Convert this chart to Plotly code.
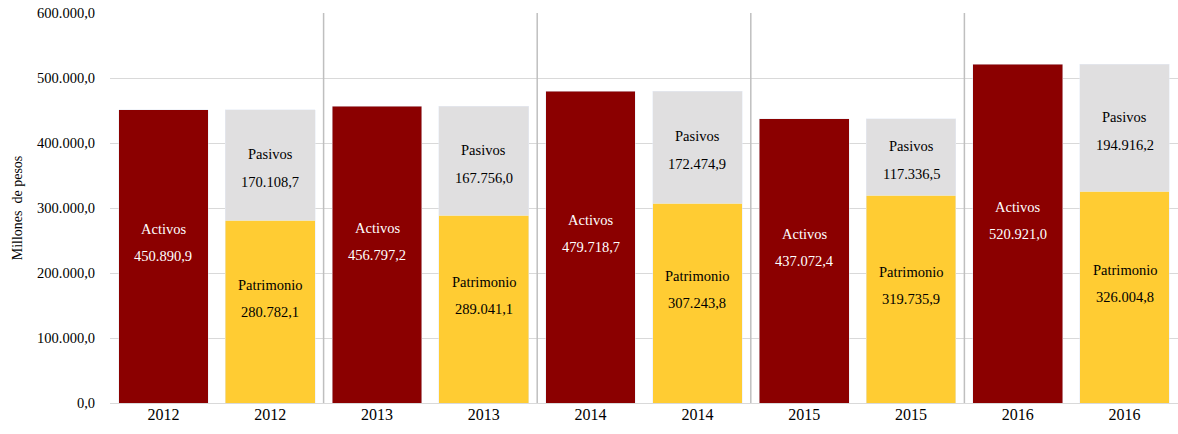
import plotly.graph_objects as go

years = ["2012", "2013", "2014", "2015", "2016"]
activos = [450890.9, 456797.2, 479718.7, 437072.4, 520921.0]
patrimonio = [280782.1, 289041.1, 307243.8, 319735.9, 326004.8]
pasivos = [170108.7, 167756.0, 172474.9, 117336.5, 194916.2]
y_ticks = [0, 100000, 200000, 300000, 400000, 500000, 600000]

C_ACT = "#8B0000"
C_PAT = "#FFCC33"
C_PAS = "#E0DFE0"
FONT = "Liberation Serif, Times New Roman, serif"


def fmt(v):
    s = f"{v:,.1f}"
    return s.replace(",", "X").replace(".", ",").replace("X", ".")


x_act = [2 * i for i in range(len(years))]
x_pp = [2 * i + 1 for i in range(len(years))]

fig = go.Figure()
fig.add_trace(go.Bar(x=x_act, y=activos, marker_color=C_ACT, name="Activos", width=0.84))
fig.add_trace(go.Bar(x=x_pp, y=patrimonio, marker_color=C_PAT, name="Patrimonio", width=0.84))
fig.add_trace(go.Bar(x=x_pp, y=pasivos, marker_color=C_PAS, name="Pasivos", width=0.84))

ann = []
for i in range(len(years)):
    a = activos[i]
    p = patrimonio[i]
    q = pasivos[i]
    ann += [
        dict(x=x_act[i], y=a / 2, text="Activos", yshift=27, font=dict(color="white")),
        dict(x=x_act[i], y=a / 2, text=fmt(a), yshift=0, font=dict(color="white")),
        dict(x=x_pp[i], y=p / 2, text="Patrimonio", yshift=27, font=dict(color="black")),
        dict(x=x_pp[i], y=p / 2, text=fmt(p), yshift=0, font=dict(color="black")),
        dict(x=x_pp[i], y=p + q / 2, text="Pasivos", yshift=11, font=dict(color="black")),
        dict(x=x_pp[i], y=p + q / 2, text=fmt(q), yshift=-17, font=dict(color="black")),
    ]
for a_ in ann:
    a_.update(xref="x", yref="y", showarrow=False, yanchor="middle")
    a_["font"].update(family=FONT, size=14.5)

shapes = []
for i in range(1, len(years)):
    shapes.append(dict(type="line", xref="x", yref="y", x0=2 * i - 0.5, x1=2 * i - 0.5,
                       y0=0, y1=y_ticks[-1], line=dict(color="#BFBFBF", width=1.5)))

fig.update_layout(
    width=1178, height=434,
    margin=dict(l=110, r=0, t=13, b=31, pad=0),
    barmode="stack",
    showlegend=False,
    plot_bgcolor="white", paper_bgcolor="white",
    separators=",.",
    font=dict(family=FONT, size=15, color="black"),
    annotations=ann,
    shapes=shapes,
    xaxis=dict(
        tickmode="array",
        tickvals=x_act + x_pp,
        ticktext=years + years,
        range=[-0.5, 2 * len(years) - 0.5],
        showgrid=False, zeroline=False, ticks="",
        tickfont=dict(size=16, family=FONT),
        automargin=False,
    ),
    yaxis=dict(
        range=[0, 600000],
        tickvals=y_ticks,
        tickformat=",.1f",
        gridcolor="#D9D9D9", gridwidth=1,
        zeroline=True, zerolinecolor="#D9D9D9", zerolinewidth=1,
        tickfont=dict(size=14.5, family=FONT),
        ticklabelstandoff=14,
        automargin=False,
        title=dict(text="Millones  de pesos", font=dict(size=14, family=FONT), standoff=11),
    ),
)

fig.write_html(
    "out.html",
    config={"displayModeBar": False},
    post_script="document.body.style.margin='0';document.body.style.overflow='hidden';",
)
